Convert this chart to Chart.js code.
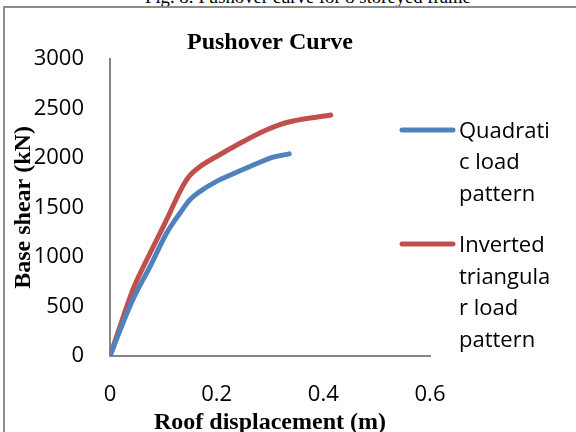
<!DOCTYPE html>
<html>
<head>
<meta charset="utf-8">
<script src="https://cdn.jsdelivr.net/npm/chart.js@4.4.1/dist/chart.umd.min.js"></script>
<style>
    body { margin: 0; background: #fff; }
    #wrap { position: relative; width: 576px; height: 432px; overflow: hidden; }
    #caption { position: absolute; left: 145px; top: -12px; font: 18.7px "Liberation Serif"; line-height: 1; white-space: nowrap; color: #000; }
    #frame { position: absolute; left: 3px; top: 6px; width: 700px; height: 600px; border-left: 2px solid #8c8c8c; border-top: 2px solid #8c8c8c; }
    canvas { position: absolute; left: 0; top: 0; }
</style>
</head>
<body>
<div id="wrap">
    <div id="caption">Fig. 8: Pushover curve for 8 storeyed frame</div>
    <div id="frame"></div>
    <canvas id="grafico" width="576" height="432"></canvas>
</div>
<script>
// valores
var quadX = [0, 0.019, 0.044, 0.075, 0.106, 0.131, 0.15, 0.169, 0.2, 0.231, 0.2625, 0.306, 0.336]
var quadY = [0, 263, 583, 902, 1239, 1441, 1578, 1662, 1763, 1840, 1913, 2007, 2040]
var invX = [0, 0.025, 0.044, 0.075, 0.106, 0.131, 0.147, 0.169, 0.2, 0.25, 0.294, 0.331, 0.414]
var invY = [0, 397, 684, 1037, 1374, 1660, 1805, 1913, 2014, 2165, 2283, 2357, 2432]
var serieLabels = [['Quadrati', 'c load', 'pattern'], ['Inverted', 'triangula', 'r load', 'pattern']]
var xTickLabels = ['0', '0.2', '0.4', '0.6']
var yTickLabels = ['0', '500', '1000', '1500', '2000', '2500', '3000']

function pontos(xs, ys){
    return xs.map(function(x, i){
        return { x: x, y: ys[i] }
    })
}

// legenda do lado direito, por cima da area do grafico como no Excel
var legendaLateral = {
    id: 'legendaLateral',
    afterDraw: function(chart){
        var ctx = chart.ctx
        var y = 130
        ctx.save()
        ctx.font = '22px "Open Sans"'
        ctx.textBaseline = 'middle'
        ctx.fillStyle = '#000'
        chart.data.datasets.forEach(function(ds){
            ctx.strokeStyle = ds.borderColor
            ctx.lineWidth = 5
            ctx.lineCap = 'round'
            ctx.beginPath()
            ctx.moveTo(402, y)
            ctx.lineTo(453, y)
            ctx.stroke()
            ds.label.forEach(function(linha, i){
                ctx.fillText(linha, 459, y + 1.5 + i * 31.7)
            })
            y += ds.label.length * 31.7 + 19
        })
        ctx.restore()
    }
}

var tickFont = { family: 'Open Sans', size: 22 }
var titleFont = { family: 'Liberation Serif', size: 24, weight: 'bold', lineHeight: 0.85 }

new Chart(document.getElementById('grafico'), {
    type: 'scatter',
    data: {
        datasets: [
            {
                label: serieLabels[0],
                data: pontos(quadX, quadY),
                showLine: true,
                borderColor: '#4F81BD',
                backgroundColor: '#4F81BD',
                borderWidth: 5,
                borderCapStyle: 'round',
                pointRadius: 0,
                cubicInterpolationMode: 'monotone'
            },
            {
                label: serieLabels[1],
                data: pontos(invX, invY),
                showLine: true,
                borderColor: '#C0504D',
                backgroundColor: '#C0504D',
                borderWidth: 5,
                borderCapStyle: 'round',
                pointRadius: 0,
                cubicInterpolationMode: 'monotone'
            }
        ]
    },
    options: {
        responsive: false,
        animation: false,
        layout: { padding: { top: 0, right: 146, bottom: 0, left: 0 } },
        plugins: {
            legend: { display: false },
            tooltip: { enabled: false },
            title: {
                display: true,
                fullSize: false,
                text: 'Pushover Curve',
                color: '#000',
                font: { family: 'Liberation Serif', size: 24, weight: 'bold', lineHeight: 1.2 },
                padding: { top: 28, bottom: 2 }
            }
        },
        scales: {
            x: {
                type: 'linear',
                min: 0,
                max: 0.6,
                grid: { display: false, drawTicks: false },
                border: { display: true, color: '#868686', width: 2 },
                ticks: {
                    stepSize: 0.2,
                    padding: 26,
                    color: '#000',
                    font: tickFont,
                    callback: function(v, i){ return xTickLabels[i] }
                },
                title: {
                    display: true,
                    text: 'Roof displacement (m)',
                    color: '#000',
                    font: titleFont,
                    padding: { top: 0, bottom: -1 }
                },
                afterFit: function(s){ s.height = 76 }
            },
            y: {
                type: 'linear',
                min: 0,
                max: 3000,
                grid: { display: false, drawTicks: false },
                border: { display: true, color: '#868686', width: 2 },
                ticks: {
                    stepSize: 500,
                    padding: 26,
                    color: '#000',
                    font: tickFont,
                    callback: function(v, i){ return yTickLabels[i] }
                },
                title: {
                    display: true,
                    text: 'Base shear (kN)',
                    color: '#000',
                    font: titleFont,
                    padding: { top: 14, bottom: 0 }
                },
                afterFit: function(s){ s.width = 110 }
            }
        }
    },
    plugins: [legendaLateral]
});
</script>
</body>
</html>
